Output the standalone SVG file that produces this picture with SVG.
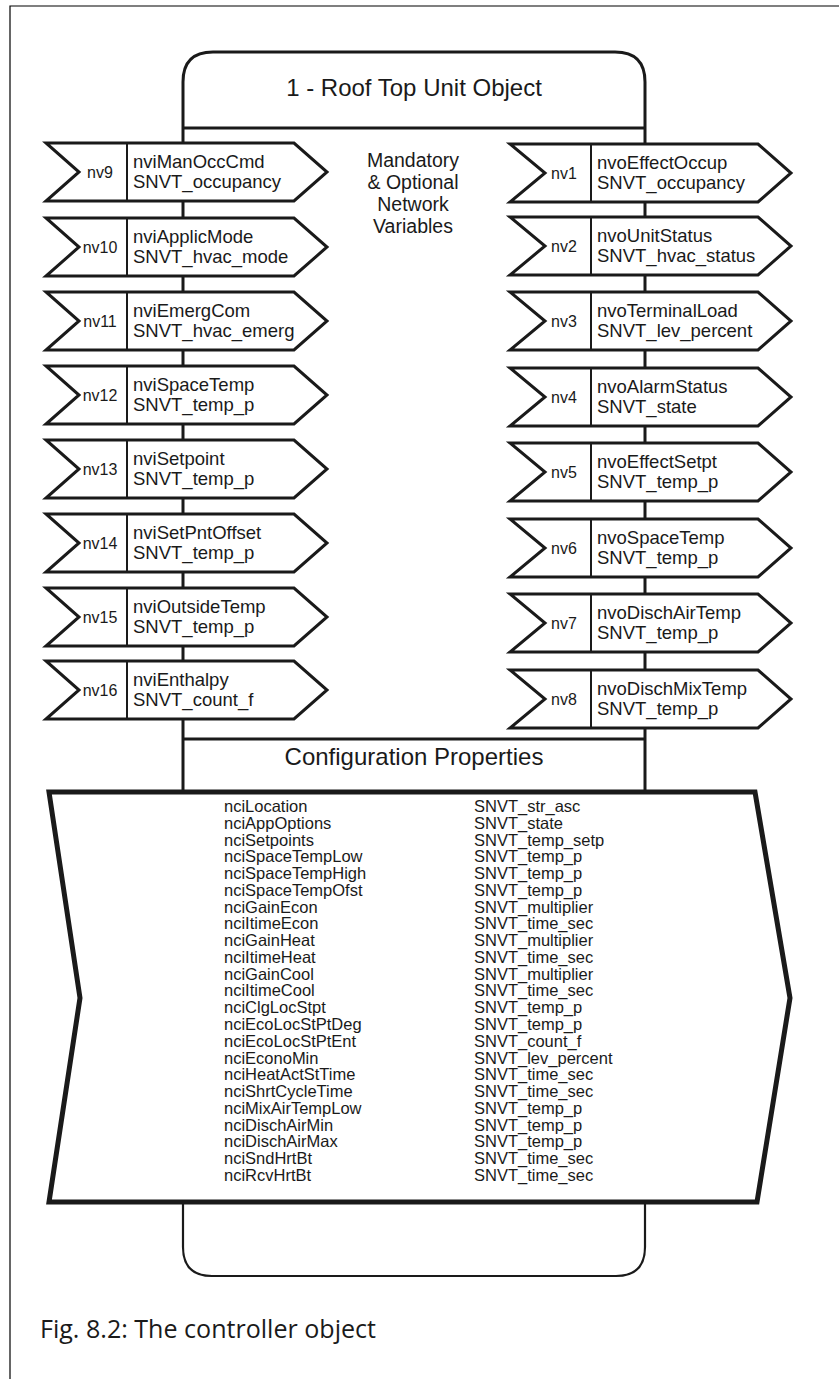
<svg xmlns="http://www.w3.org/2000/svg" width="839" height="1379" viewBox="0 0 839 1379">
  <style>
    .frame { fill: none; stroke: #000; stroke-width: 1.2; }
    .body { fill: none; stroke: #1a1a1a; stroke-width: 3; stroke-linejoin: round; }
    .bodyThin { fill: none; stroke: #1a1a1a; stroke-width: 2.2; }
    .nv { fill: #fff; stroke: #1a1a1a; stroke-width: 3; stroke-linejoin: miter; }
    .div { stroke: #1a1a1a; stroke-width: 2; }
    .cp { fill: #fff; stroke: #1a1a1a; stroke-width: 5; stroke-linejoin: miter; }
    text { font-family: "Liberation Sans", Arial, sans-serif; fill: #1a1a1a; }
    .big { font-size: 24px; text-anchor: middle; }
    .mid { font-size: 19.5px; text-anchor: middle; }
    .name { font-size: 18.5px; }
    .num { font-size: 16px; text-anchor: middle; }
    .list { font-size: 16.5px; }
    .cap { font-family: "Open Sans", "Noto Sans", sans-serif; font-size: 25px; }
  </style>

  <!-- page frame -->
  <path class="frame" d="M10,1379 V6 H839"/>

  <!-- object body: rounded head, spine lines and rounded foot -->
  <g id="object-body">
    <path class="body" d="M183,128 V82 Q183,52 213,52 H615 Q645,52 645,82 V128"/>
    <line class="body" x1="183" y1="128" x2="645" y2="128"/>
    <text class="big" x="414" y="96">1 - Roof Top Unit Object</text>
    <text class="mid" x="413" y="167">Mandatory</text>
    <text class="mid" x="413" y="189">&amp; Optional</text>
    <text class="mid" x="413" y="211">Network</text>
    <text class="mid" x="413" y="233">Variables</text>
  </g>

  <g id="connectors">
    <line class="body" x1="183" y1="128" x2="183" y2="790"/>
    <line class="body" x1="645" y1="128" x2="645" y2="790"/>
    <line class="body" x1="183" y1="739" x2="645" y2="739"/>
    <path class="bodyThin" d="M183,1204 V1247 Q183,1276 212,1276 H616 Q645,1276 645,1247 V1204"/>
  </g>

  <!-- input network variables -->
  <g id="nv9">
    <polygon class="nv" points="46,143 294,143 327,172 294,201 46,201 79,172"/>
    <line class="div" x1="127" y1="143" x2="127" y2="201"/>
    <text class="num" x="100" y="178">nv9</text>
    <text class="name" x="133" y="168">nviManOccCmd</text>
    <text class="name" x="133" y="188">SNVT_occupancy</text>
  </g>
  <g id="nv10">
    <polygon class="nv" points="46,218 294,218 327,247 294,276 46,276 79,247"/>
    <line class="div" x1="127" y1="218" x2="127" y2="276"/>
    <text class="num" x="100" y="253">nv10</text>
    <text class="name" x="133" y="243">nviApplicMode</text>
    <text class="name" x="133" y="263">SNVT_hvac_mode</text>
  </g>
  <g id="nv11">
    <polygon class="nv" points="46,292 294,292 327,321 294,350 46,350 79,321"/>
    <line class="div" x1="127" y1="292" x2="127" y2="350"/>
    <text class="num" x="100" y="327">nv11</text>
    <text class="name" x="133" y="317">nviEmergCom</text>
    <text class="name" x="133" y="337">SNVT_hvac_emerg</text>
  </g>
  <g id="nv12">
    <polygon class="nv" points="46,366 294,366 327,395 294,424 46,424 79,395"/>
    <line class="div" x1="127" y1="366" x2="127" y2="424"/>
    <text class="num" x="100" y="401">nv12</text>
    <text class="name" x="133" y="391">nviSpaceTemp</text>
    <text class="name" x="133" y="411">SNVT_temp_p</text>
  </g>
  <g id="nv13">
    <polygon class="nv" points="46,440 294,440 327,469 294,498 46,498 79,469"/>
    <line class="div" x1="127" y1="440" x2="127" y2="498"/>
    <text class="num" x="100" y="475">nv13</text>
    <text class="name" x="133" y="465">nviSetpoint</text>
    <text class="name" x="133" y="485">SNVT_temp_p</text>
  </g>
  <g id="nv14">
    <polygon class="nv" points="46,514 294,514 327,543 294,572 46,572 79,543"/>
    <line class="div" x1="127" y1="514" x2="127" y2="572"/>
    <text class="num" x="100" y="549">nv14</text>
    <text class="name" x="133" y="539">nviSetPntOffset</text>
    <text class="name" x="133" y="559">SNVT_temp_p</text>
  </g>
  <g id="nv15">
    <polygon class="nv" points="46,588 294,588 327,617 294,646 46,646 79,617"/>
    <line class="div" x1="127" y1="588" x2="127" y2="646"/>
    <text class="num" x="100" y="623">nv15</text>
    <text class="name" x="133" y="613">nviOutsideTemp</text>
    <text class="name" x="133" y="633">SNVT_temp_p</text>
  </g>
  <g id="nv16">
    <polygon class="nv" points="46,661 294,661 327,690 294,719 46,719 79,690"/>
    <line class="div" x1="127" y1="661" x2="127" y2="719"/>
    <text class="num" x="100" y="696">nv16</text>
    <text class="name" x="133" y="686">nviEnthalpy</text>
    <text class="name" x="133" y="706">SNVT_count_f</text>
  </g>

  <!-- output network variables -->
  <g id="nv1">
    <polygon class="nv" points="510,144 758,144 791,173 758,202 510,202 545,173"/>
    <line class="div" x1="591" y1="144" x2="591" y2="202"/>
    <text class="num" x="564" y="179">nv1</text>
    <text class="name" x="597" y="169">nvoEffectOccup</text>
    <text class="name" x="597" y="189">SNVT_occupancy</text>
  </g>
  <g id="nv2">
    <polygon class="nv" points="510,217 758,217 791,246 758,275 510,275 545,246"/>
    <line class="div" x1="591" y1="217" x2="591" y2="275"/>
    <text class="num" x="564" y="252">nv2</text>
    <text class="name" x="597" y="242">nvoUnitStatus</text>
    <text class="name" x="597" y="262">SNVT_hvac_status</text>
  </g>
  <g id="nv3">
    <polygon class="nv" points="510,292 758,292 791,321 758,350 510,350 545,321"/>
    <line class="div" x1="591" y1="292" x2="591" y2="350"/>
    <text class="num" x="564" y="327">nv3</text>
    <text class="name" x="597" y="317">nvoTerminalLoad</text>
    <text class="name" x="597" y="337">SNVT_lev_percent</text>
  </g>
  <g id="nv4">
    <polygon class="nv" points="510,368 758,368 791,397 758,426 510,426 545,397"/>
    <line class="div" x1="591" y1="368" x2="591" y2="426"/>
    <text class="num" x="564" y="403">nv4</text>
    <text class="name" x="597" y="393">nvoAlarmStatus</text>
    <text class="name" x="597" y="413">SNVT_state</text>
  </g>
  <g id="nv5">
    <polygon class="nv" points="510,443 758,443 791,472 758,501 510,501 545,472"/>
    <line class="div" x1="591" y1="443" x2="591" y2="501"/>
    <text class="num" x="564" y="478">nv5</text>
    <text class="name" x="597" y="468">nvoEffectSetpt</text>
    <text class="name" x="597" y="488">SNVT_temp_p</text>
  </g>
  <g id="nv6">
    <polygon class="nv" points="510,519 758,519 791,548 758,577 510,577 545,548"/>
    <line class="div" x1="591" y1="519" x2="591" y2="577"/>
    <text class="num" x="564" y="554">nv6</text>
    <text class="name" x="597" y="544">nvoSpaceTemp</text>
    <text class="name" x="597" y="564">SNVT_temp_p</text>
  </g>
  <g id="nv7">
    <polygon class="nv" points="510,594 758,594 791,623 758,652 510,652 545,623"/>
    <line class="div" x1="591" y1="594" x2="591" y2="652"/>
    <text class="num" x="564" y="629">nv7</text>
    <text class="name" x="597" y="619">nvoDischAirTemp</text>
    <text class="name" x="597" y="639">SNVT_temp_p</text>
  </g>
  <g id="nv8">
    <polygon class="nv" points="510,670 758,670 791,699 758,728 510,728 545,699"/>
    <line class="div" x1="591" y1="670" x2="591" y2="728"/>
    <text class="num" x="564" y="705">nv8</text>
    <text class="name" x="597" y="695">nvoDischMixTemp</text>
    <text class="name" x="597" y="715">SNVT_temp_p</text>
  </g>

  <!-- configuration properties -->
  <g id="config-header">
    <text class="big" x="414" y="765">Configuration Properties</text>
  </g>
  <g id="config-properties">
    <polygon class="cp" points="49,792 755,792 790,998 757,1202 49,1202 80,998"/>
    <text class="list" x="224" y="812">
      <tspan x="224" dy="0">nciLocation</tspan>
      <tspan x="224" dy="16.77">nciAppOptions</tspan>
      <tspan x="224" dy="16.77">nciSetpoints</tspan>
      <tspan x="224" dy="16.77">nciSpaceTempLow</tspan>
      <tspan x="224" dy="16.77">nciSpaceTempHigh</tspan>
      <tspan x="224" dy="16.77">nciSpaceTempOfst</tspan>
      <tspan x="224" dy="16.77">nciGainEcon</tspan>
      <tspan x="224" dy="16.77">nciItimeEcon</tspan>
      <tspan x="224" dy="16.77">nciGainHeat</tspan>
      <tspan x="224" dy="16.77">nciItimeHeat</tspan>
      <tspan x="224" dy="16.77">nciGainCool</tspan>
      <tspan x="224" dy="16.77">nciItimeCool</tspan>
      <tspan x="224" dy="16.77">nciClgLocStpt</tspan>
      <tspan x="224" dy="16.77">nciEcoLocStPtDeg</tspan>
      <tspan x="224" dy="16.77">nciEcoLocStPtEnt</tspan>
      <tspan x="224" dy="16.77">nciEconoMin</tspan>
      <tspan x="224" dy="16.77">nciHeatActStTime</tspan>
      <tspan x="224" dy="16.77">nciShrtCycleTime</tspan>
      <tspan x="224" dy="16.77">nciMixAirTempLow</tspan>
      <tspan x="224" dy="16.77">nciDischAirMin</tspan>
      <tspan x="224" dy="16.77">nciDischAirMax</tspan>
      <tspan x="224" dy="16.77">nciSndHrtBt</tspan>
      <tspan x="224" dy="16.77">nciRcvHrtBt</tspan>
    </text>
    <text class="list" x="474" y="812">
      <tspan x="474" dy="0">SNVT_str_asc</tspan>
      <tspan x="474" dy="16.77">SNVT_state</tspan>
      <tspan x="474" dy="16.77">SNVT_temp_setp</tspan>
      <tspan x="474" dy="16.77">SNVT_temp_p</tspan>
      <tspan x="474" dy="16.77">SNVT_temp_p</tspan>
      <tspan x="474" dy="16.77">SNVT_temp_p</tspan>
      <tspan x="474" dy="16.77">SNVT_multiplier</tspan>
      <tspan x="474" dy="16.77">SNVT_time_sec</tspan>
      <tspan x="474" dy="16.77">SNVT_multiplier</tspan>
      <tspan x="474" dy="16.77">SNVT_time_sec</tspan>
      <tspan x="474" dy="16.77">SNVT_multiplier</tspan>
      <tspan x="474" dy="16.77">SNVT_time_sec</tspan>
      <tspan x="474" dy="16.77">SNVT_temp_p</tspan>
      <tspan x="474" dy="16.77">SNVT_temp_p</tspan>
      <tspan x="474" dy="16.77">SNVT_count_f</tspan>
      <tspan x="474" dy="16.77">SNVT_lev_percent</tspan>
      <tspan x="474" dy="16.77">SNVT_time_sec</tspan>
      <tspan x="474" dy="16.77">SNVT_time_sec</tspan>
      <tspan x="474" dy="16.77">SNVT_temp_p</tspan>
      <tspan x="474" dy="16.77">SNVT_temp_p</tspan>
      <tspan x="474" dy="16.77">SNVT_temp_p</tspan>
      <tspan x="474" dy="16.77">SNVT_time_sec</tspan>
      <tspan x="474" dy="16.77">SNVT_time_sec</tspan>
    </text>
  </g>

  <text class="cap" x="40" y="1338" textLength="336" lengthAdjust="spacingAndGlyphs">Fig. 8.2: The controller object</text>
</svg>
